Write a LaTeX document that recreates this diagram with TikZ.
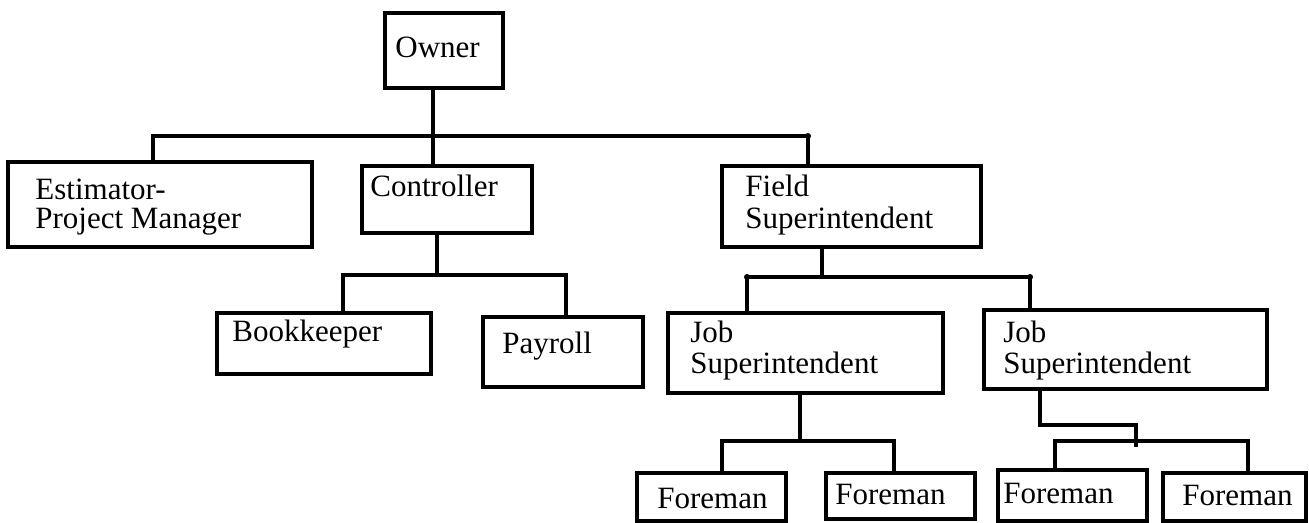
\documentclass[tikz,border=0pt]{standalone}
\usepackage{fontspec}
\setmainfont{Liberation Serif}
\usetikzlibrary{fit}

\begin{document}
\begin{tikzpicture}[
  x=0.5pt, y=-0.5pt,
  box/.style={draw, line width=1.8pt, rectangle, inner sep=0pt},
  conn/.style={draw, line width=1.6pt},
  lbl/.style={inner sep=0pt, anchor=base west, font=\fontsize{15.5}{18}\selectfont},
  jdot/.style={fill, circle, inner sep=0pt, minimum size=3pt}
]
\useasboundingbox (0,0) rectangle (1309,523);

% boxes of the chart
\node[box, fit={(385,13) (503,88)}]    (own) {};
\node[box, fit={(8,162) (312,247)}]    (est) {};
\node[box, fit={(362,166) (532,233)}]  (ctl) {};
\node[box, fit={(722,166) (981,247)}]  (fld) {};
\node[box, fit={(217,313) (431,374)}]  (bkp) {};
\node[box, fit={(483,317) (643,387)}]  (pay) {};
\node[box, fit={(668,313) (943,393)}]  (js1) {};
\node[box, fit={(984,310) (1267,389)}] (js2) {};
\node[box, fit={(637,473) (786,521)}]  (fm1) {};
\node[box, fit={(826,473) (975,519)}]  (fm2) {};
\node[box, fit={(998,470) (1147,521)}] (fm3) {};
\node[box, fit={(1163,473) (1306,521)}] (fm4) {};

% titles
\node[lbl] (ownT)  at (395,58)  {Owner};
\node[lbl] (estT1) at (35,200)  {Estimator-};
\node[lbl] (estT2) at (35,229)  {Project Manager};
\node[lbl] (ctlT)  at (370,197) {Controller};
\node[lbl] (fldT1) at (745,197) {Field};
\node[lbl] (fldT2) at (745,229) {Superintendent};
\node[lbl] (bkpT)  at (232,341) {Bookkeeper};
\node[lbl] (payT)  at (502,353) {Payroll};
\node[lbl] (js1T1) at (690,343) {Job};
\node[lbl] (js1T2) at (690,373) {Superintendent};
\node[lbl] (js2T1) at (1003,343) {Job};
\node[lbl] (js2T2) at (1003,373) {Superintendent};
\node[lbl] (fm1T)  at (657,508) {Foreman};
\node[lbl] (fm2T)  at (835,504) {Foreman};
\node[lbl] (fm3T)  at (1003,503) {Foreman};
\node[lbl] (fm4T)  at (1182,505) {Foreman};

% bus junctions
\coordinate (busL) at (153,136);
\coordinate (busO) at (433,136);
\coordinate (busR) at (808,136);
\coordinate (cbL)  at (343,275);
\coordinate (cbO)  at (437,275);
\coordinate (cbR)  at (566,275);
\coordinate (fbL)  at (747,277);
\coordinate (fbO)  at (822,277);
\coordinate (fbR)  at (1030,277);
\coordinate (jaL)  at (722,441);
\coordinate (jaO)  at (800,441);
\coordinate (jaR)  at (894,441);
\coordinate (jbL)  at (1055,441);
\coordinate (jbR)  at (1248,441);
\coordinate (jbS)  at (1040,425);
\coordinate (jbK)  at (1136,425);
\coordinate (jbE)  at (1136,447);

% top level
\draw[conn] (own.south -| busO) -- (ctl.north -| busO);
\draw[conn] (est.north -| busL) -- (busL) -- (busR) -- (fld.north -| busR);

% controller branch
\draw[conn] (ctl.south -| cbO) -- (cbO);
\draw[conn] (bkp.north -| cbL) -- (cbL) -- (cbR) -- (pay.north -| cbR);

% field branch
\draw[conn] (fld.south -| fbO) -- (fbO);
\draw[conn] (js1.north -| fbL) -- (fbL) -- (fbR) -- (js2.north -| fbR);

% job superintendents
\draw[conn] (js1.south -| jaO) -- (jaO);
\draw[conn] (fm1.north -| jaL) -- (jaL) -- (jaR) -- (fm2.north -| jaR);
\draw[conn] (js2.south -| jbS) -- (jbS) -- (jbK) -- (jbE);
\draw[conn] (fm3.north -| jbL) -- (jbL) -- (jbR) -- (fm4.north -| jbR);

% small joints at line ends
\node[jdot] (d1) at (busR) {};
\node[jdot] (d2) at (fbL) {};
\node[jdot] (d3) at (fbR) {};
\end{tikzpicture}
\end{document}
